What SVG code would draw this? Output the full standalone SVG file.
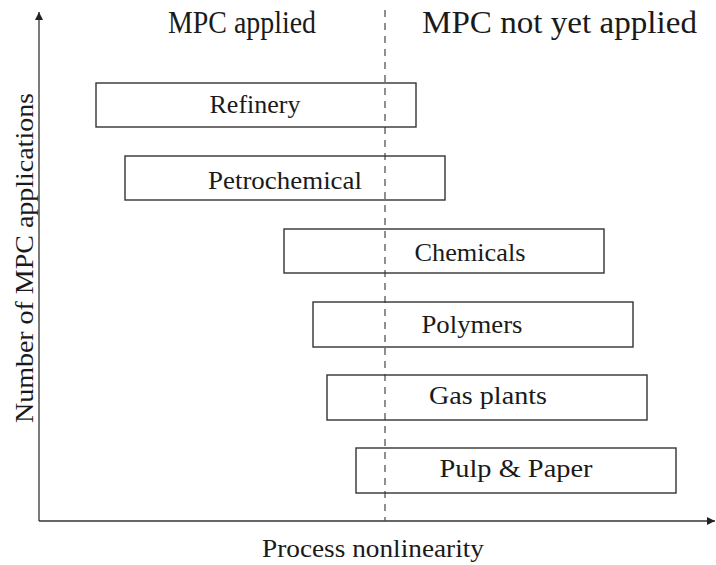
<svg xmlns="http://www.w3.org/2000/svg" width="716" height="565" viewBox="0 0 716 565">
  <style>
    .box { fill: none; stroke: #333; stroke-width: 1.4; }
    .lbl { font-family: "Liberation Serif", "DejaVu Serif", serif; font-size: 26px; fill: #1a1a1a; text-anchor: middle; }
    .head { font-family: "Liberation Serif", "DejaVu Serif", serif; font-size: 31px; fill: #1a1a1a; }
    .axis { stroke: #333; stroke-width: 1.3; fill: none; }
    .div { stroke: #555; stroke-width: 1.3; stroke-dasharray: 7 6; fill: none; }
  </style>
  <defs>
    <marker id="arr" viewBox="0 0 10 10" refX="10" refY="5" markerWidth="8" markerHeight="8" markerUnits="userSpaceOnUse" orient="auto">
      <path d="M0,0 L10,5 L0,10 z" fill="#222"/>
    </marker>
  </defs>
  <rect width="716" height="565" fill="#fff"/>

  <!-- axes and divider -->
  <g id="connectors">
    <line class="axis" x1="39" y1="521" x2="39" y2="12" marker-end="url(#arr)"/>
    <line class="axis" x1="39" y1="521" x2="715" y2="521" marker-end="url(#arr)"/>
    <line class="div" x1="385" y1="10" x2="385" y2="521"/>
  </g>

  <!-- region headings -->
  <text class="head" x="168" y="33" textLength="148" lengthAdjust="spacingAndGlyphs">MPC applied</text>
  <text class="head" x="422" y="33" textLength="275" lengthAdjust="spacingAndGlyphs">MPC not yet applied</text>

  <!-- axis titles -->
  <text class="lbl" x="373" y="557" textLength="222" lengthAdjust="spacingAndGlyphs">Process nonlinearity</text>
  <text class="lbl" transform="translate(33,258) rotate(-90)" x="0" y="0" textLength="330" lengthAdjust="spacingAndGlyphs">Number of MPC applications</text>

  <!-- industries -->
  <g id="refinery">
    <rect class="box" x="96" y="83" width="320" height="44"/>
    <text class="lbl" x="255" y="113" textLength="91" lengthAdjust="spacingAndGlyphs">Refinery</text>
  </g>
  <g id="petrochemical">
    <rect class="box" x="125" y="156" width="320" height="44"/>
    <text class="lbl" x="285" y="189" textLength="154" lengthAdjust="spacingAndGlyphs">Petrochemical</text>
  </g>
  <g id="chemicals">
    <rect class="box" x="284" y="229" width="320" height="44"/>
    <text class="lbl" x="470" y="261" textLength="111" lengthAdjust="spacingAndGlyphs">Chemicals</text>
  </g>
  <g id="polymers">
    <rect class="box" x="313" y="302" width="320" height="45"/>
    <text class="lbl" x="472" y="333" textLength="101" lengthAdjust="spacingAndGlyphs">Polymers</text>
  </g>
  <g id="gas-plants">
    <rect class="box" x="327" y="375" width="320" height="45"/>
    <text class="lbl" x="488" y="404" textLength="118" lengthAdjust="spacingAndGlyphs">Gas plants</text>
  </g>
  <g id="pulp-paper">
    <rect class="box" x="356" y="448" width="320" height="45"/>
    <text class="lbl" x="516" y="477" textLength="153" lengthAdjust="spacingAndGlyphs">Pulp &amp; Paper</text>
  </g>
</svg>
